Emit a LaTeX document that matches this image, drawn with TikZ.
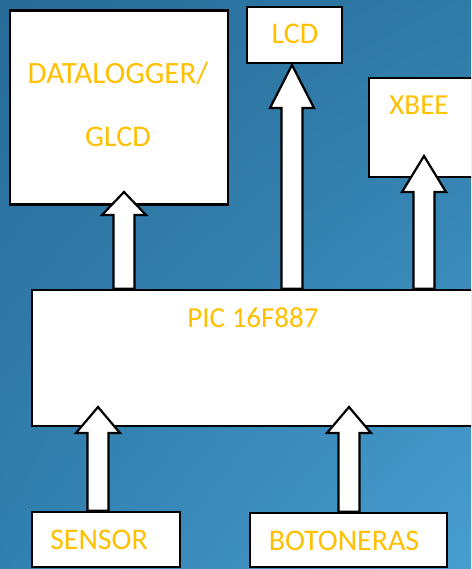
\documentclass[tikz,border=0pt]{standalone}
\usepackage{fontspec}
\setmainfont{Carlito}
\usetikzlibrary{calc,shadings}
\definecolor{txtgold}{RGB}{255,192,0}
\definecolor{bgUL}{RGB}{40,108,152}
\definecolor{bgUR}{RGB}{46,122,168}
\definecolor{bgLL}{RGB}{50,128,176}
\definecolor{bgLR}{RGB}{72,158,208}
\tikzset{
  box/.style={draw=black, fill=white, line width=2.6pt},
  lbl/.style={text=txtgold, font=\fontsize{30}{36}\selectfont, anchor=base, inner sep=0pt},
  lbls/.style={lbl, font=\fontsize{29}{35}\selectfont},
  arr/.style={draw=black, fill=white, line width=2.2pt, line join=miter},
}
% #1 tip coordinate, #2 base coordinate, #3 head length
\newcommand\blockarr[3]{%
  \draw[arr] let \p1=(#1), \p2=(#2) in
    (\x1-10.5pt,\y2) -- (\x1-10.5pt,\y1-#3) -- (\x1-22pt,\y1-#3) -- (\p1)
    -- (\x1+22pt,\y1-#3) -- (\x1+10.5pt,\y1-#3) -- (\x1+10.5pt,\y2) -- cycle;}
\begin{document}
\begin{tikzpicture}[x=1pt,y=-1pt]
\useasboundingbox (0,0) rectangle (471,569);
\clip (0,0) rectangle (471,569);
\shade[upper left=bgUL, upper right=bgUR, lower left=bgLL, lower right=bgLR] (0,0) rectangle (471,569);

% boxes
\node[box, minimum width=218pt, minimum height=194pt, inner sep=0pt] (dl) at (119,107.5) {};
\node[box, minimum width=95pt, minimum height=56pt, inner sep=0pt] (lcd) at (294.5,35) {};
\node[box, minimum width=110pt, minimum height=99pt, inner sep=0pt] (xbee) at (424,127.5) {};
\node[box, minimum width=450pt, minimum height=136pt, inner sep=0pt] (pic) at (257,358) {};
\node[box, minimum width=148pt, minimum height=55pt, inner sep=0pt] (sensor) at (106,539.5) {};
\node[box, minimum width=197pt, minimum height=54pt, inner sep=0pt] (boton) at (348.5,540) {};

% labels
\node[lbl, font=\fontsize{31}{37}\selectfont] (dlt1) at (118,84) {DATALOGGER/};
\node[lbl] (dlt2) at (118,147) {GLCD};
\node[lbl] (lcdt) at (295,44) {LCD};
\node[lbls] (xbeet) at (419,115) {XBEE};
\node[lbls] (pict) at (253,327) {PIC 16F887};
\node[lbl] (sensort) at (99,549) {SENSOR};
\node[lbl] (botont) at (344,550) {BOTONERAS};

% arrow coordinates
\coordinate (tdl) at (124,192);
\coordinate (tlcd) at (292,65);
\coordinate (txb) at (424,156);
\coordinate (tsen) at (98,407);
\coordinate (tbot) at (349,407);

\blockarr{tdl}{tdl |- pic.north}{23pt}
\blockarr{tlcd}{tlcd |- pic.north}{43pt}
\blockarr{txb}{txb |- pic.north}{36pt}
\blockarr{tsen}{tsen |- sensor.north}{26pt}
\blockarr{tbot}{tbot |- boton.north}{26pt}
\end{tikzpicture}
\end{document}
